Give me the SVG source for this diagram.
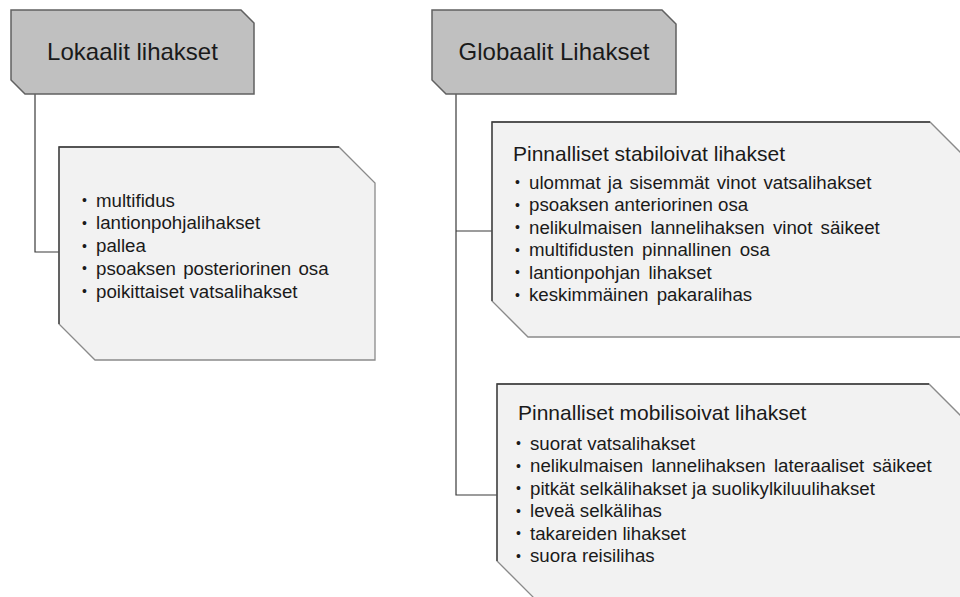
<svg xmlns="http://www.w3.org/2000/svg" width="960" height="597" viewBox="0 0 960 597">
<style>
.hdr{fill:#c0c0c0;stroke:#606060;stroke-width:1.5}
.box{fill:#f2f2f2;stroke:#8a8a8a;stroke-width:1.3}
.edge{fill:none;stroke:#3a3a3a;stroke-width:1.3}
.conn{fill:none;stroke:#3a3a3a;stroke-width:1.2}
text{font-family:"Liberation Sans",Arial,sans-serif;fill:#1a1a1a}
.ht{font-size:24px;text-anchor:middle}
.tt{font-size:21px}
.li{font-size:18.7px}
.bu{font-size:14px}
</style>
<rect width="960" height="597" fill="#ffffff"/>
<g id="connectors">
<path class="conn" d="M35,94 V252 H59"/>
<path class="conn" d="M456,94 V495 H497"/>
<path class="conn" d="M456,231 H492"/>
</g>
<g id="lokaalit-header">
<polygon class="hdr" points="11,10 241,10 254,23 254,94 25,94 11,80"/>
<text class="ht" x="132.5" y="60">Lokaalit lihakset</text>
</g>
<g id="globaalit-header">
<polygon class="hdr" points="432,10 662,10 676,24 676,94 446,94 432,80"/>
<text class="ht" x="554" y="60">Globaalit Lihakset</text>
</g>
<g id="lokaalit-list">
<polygon class="box" points="59,147 339,147 375,183 375,360 95,360 59,324"/>
<polyline class="edge" points="59,324 59,147 339,147"/>
<g class="bu">
<text x="82" y="205">•</text><text x="82" y="227.8">•</text><text x="82" y="250.6">•</text><text x="82" y="273.4">•</text><text x="82" y="296.2">•</text>
</g>
<g class="li">
<text x="96" y="206.5">multifidus</text>
<text x="96" y="229.3">lantionpohjalihakset</text>
<text x="96" y="252.1">pallea</text>
<text x="96" y="274.9" word-spacing="2">psoaksen posteriorinen osa</text>
<text x="96" y="297.7">poikittaiset vatsalihakset</text>
</g>
</g>
<g id="stabiloivat">
<polygon class="box" points="492,122 930,122 966,158 966,337 528,337 492,301"/>
<polyline class="edge" points="492,301 492,122 930,122"/>
<text class="tt" x="513" y="160.5">Pinnalliset stabiloivat lihakset</text>
<g class="bu">
<text x="515" y="187">•</text><text x="515" y="209.5">•</text><text x="515" y="232">•</text><text x="515" y="254.5">•</text><text x="515" y="277">•</text><text x="515" y="299.5">•</text>
</g>
<g class="li">
<text x="529" y="188.5" word-spacing="2">ulommat ja sisemmät vinot vatsalihakset</text>
<text x="529" y="211">psoaksen anteriorinen osa</text>
<text x="529" y="233.5" word-spacing="3">nelikulmaisen lannelihaksen vinot säikeet</text>
<text x="529" y="256" word-spacing="3">multifidusten pinnallinen osa</text>
<text x="529" y="278.5" word-spacing="3">lantionpohjan lihakset</text>
<text x="529" y="301" word-spacing="3">keskimmäinen pakaralihas</text>
</g>
</g>
<g id="mobilisoivat">
<polygon class="box" points="497,384 929,384 965,420 965,599 535,599 497,561"/>
<polyline class="edge" points="497,561 497,384 929,384"/>
<text class="tt" x="518" y="419.5">Pinnalliset mobilisoivat lihakset</text>
<g class="bu">
<text x="516" y="448">•</text><text x="516" y="470.5">•</text><text x="516" y="493">•</text><text x="516" y="515.5">•</text><text x="516" y="538">•</text><text x="516" y="560.5">•</text>
</g>
<g class="li">
<text x="530" y="449.5">suorat vatsalihakset</text>
<text x="530" y="472" word-spacing="3">nelikulmaisen lannelihaksen lateraaliset säikeet</text>
<text x="530" y="494.5">pitkät selkälihakset ja suolikylkiluulihakset</text>
<text x="530" y="517">leveä selkälihas</text>
<text x="530" y="539.5">takareiden lihakset</text>
<text x="530" y="562">suora reisilihas</text>
</g>
</g>
</svg>
